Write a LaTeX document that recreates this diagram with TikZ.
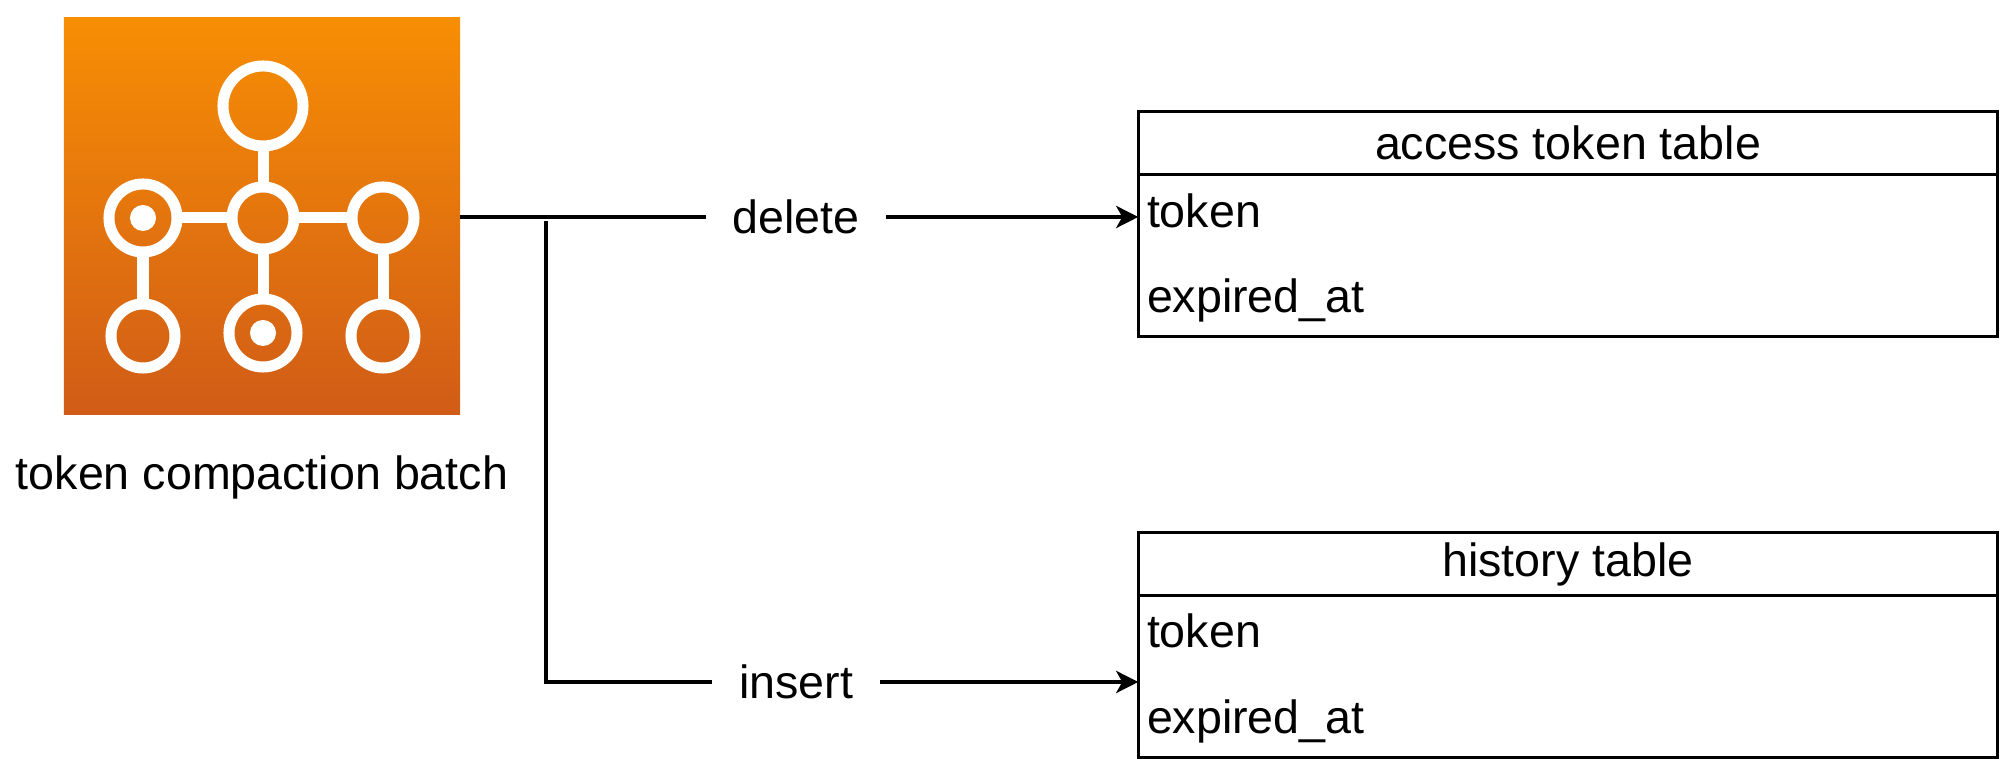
\documentclass[tikz,border=0pt]{standalone}
\usepackage{fontspec}
\setmainfont{Liberation Sans}
\usetikzlibrary{arrows.meta}

\definecolor{batchtop}{HTML}{F78E04}
\definecolor{batchbottom}{HTML}{D05C17}

\begin{document}
\begin{tikzpicture}[x=0.01cm, y=-0.01cm,
                    every node/.style={font=\fontsize{13.25}{16}\selectfont, inner sep=0, outer sep=0},
                    hub/.style={circle, draw=white, line width=0.11cm, minimum size=#1},
                    dot/.style={circle, fill=white, minimum size=0.26cm},
                    spoke/.style={draw=white, line width=0.11cm},
                    tablebox/.style={draw, line width=0.95pt, minimum width=8.59cm},
                    wire/.style={line width=1.25pt},
                    feed/.style={wire, -{Stealth[length=0.22cm, width=0.22cm, inset=0.06cm]}},
                    gap/.style={fill=white, minimum height=0.5cm}]
                    \useasboundingbox (0,0) rectangle (2000,762);

                    \node [top color=batchtop, bottom color=batchbottom, minimum size=3.96cm] (batch) at (262,216) {};
                    \node (batchname) at (262,477) {token compaction batch};

                    \node [hub=0.80cm] (hubtop) at (263,106) {};
                    \node [hub=0.68cm] (hubleft) at (143,218) {};
                    \node [hub=0.62cm] (hubmid) at (263,218) {};
                    \node [hub=0.62cm] (hubright) at (383,218) {};
                    \node [hub=0.64cm] (hubsw) at (143,336) {};
                    \node [hub=0.68cm] (hubsouth) at (263,333) {};
                    \node [hub=0.64cm] (hubse) at (383,336) {};
                    \node [dot] (dotleft) at (hubleft) {};
                    \node [dot] (dotsouth) at (hubsouth) {};

                    \draw [spoke] (hubtop) -- (hubmid);
                    \draw [spoke] (hubleft) -- (hubmid);
                    \draw [spoke] (hubmid) -- (hubright);
                    \draw [spoke] (hubleft) -- (hubsw);
                    \draw [spoke] (hubmid) -- (hubsouth);
                    \draw [spoke] (hubright) -- (hubse);

                    \node [tablebox, minimum height=0.63cm] (accesshead) at (1568,143) {access token table};
                    \node [tablebox, minimum height=1.62cm, anchor=north] (accessbody) at (accesshead.south) {};
                    \node [anchor=west] (accesstoken) at (1147,211) {token};
                    \node [anchor=west] (accessexpired) at (1147,300) {expired\_at};

                    \node [tablebox, minimum height=0.63cm] (historyhead) at (1568,564) {history table};
                    \node [tablebox, minimum height=1.62cm, anchor=north] (historybody) at (historyhead.south) {};
                    \node [anchor=west] (historytoken) at (1147,631) {token};
                    \node [anchor=west] (historyexpired) at (1147,721) {expired\_at};

                    \node [gap, minimum width=1.80cm] (delete) at (796,217) {delete};
                    \node [gap, minimum width=1.68cm] (insert) at (796,682) {insert};
                    \coordinate (split) at (546,221);

                    \draw [wire] (batch.east |- delete) -- (delete);
                    \draw [feed] (delete) -- (delete -| accessbody.west);
                    \draw [wire] (split) |- (insert);
                    \draw [feed] (insert) -- (insert -| historybody.west);
                \end{tikzpicture}
\end{document}
